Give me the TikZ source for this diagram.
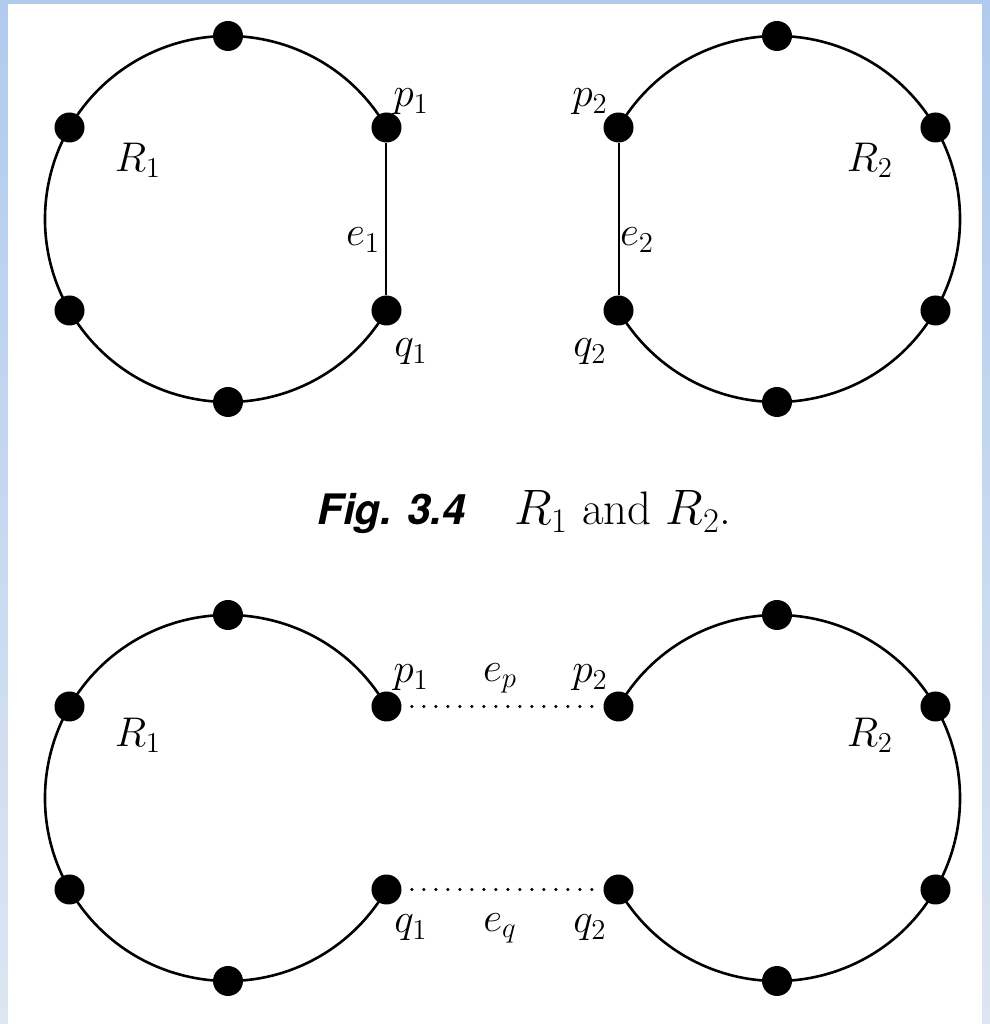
\documentclass[tikz,border=0pt]{standalone}
\usepackage{fontspec}
\newfontfamily\capsans{TeX Gyre Heros}
\definecolor{frTop}{HTML}{B0CBEE}
\definecolor{frBot}{HTML}{DDE5F1}
\usetikzlibrary{backgrounds}

\begin{document}
\begin{tikzpicture}[
  x=0.5pt,y=0.5pt,
  vtx/.style={circle,fill=black,inner sep=0pt,minimum size=15pt},
  lbl/.style={font=\fontsize{20}{24}\selectfont,inner sep=0pt},
  big/.style={font=\fontsize{22}{26}\selectfont,inner sep=0pt},
  rim/.style={line width=1.3pt},
  chord/.style={line width=1pt},
  bridge/.style={line width=1.8pt,dash pattern=on 0pt off 6pt,line cap=round,
                 shorten <=5pt,shorten >=5pt}
]
\useasboundingbox (0,0) rectangle (990,1024);
% ring centres: t = Fig. 3.4, b = merged ring
\coordinate (cLt) at (228,805);
\coordinate (cRt) at (777,805);
\coordinate (cLb) at (228,226);
\coordinate (cRb) at (777,226);
\foreach \f in {t,b}{
  \foreach \ang/\k in {90/1,150/2,210/3,270/4}
    \node[vtx] (L\k\f) at ([shift={(\ang:183)}]cL\f) {};
  \foreach \ang/\k in {90/1,30/2,-30/3,270/4}
    \node[vtx] (R\k\f) at ([shift={(\ang:183)}]cR\f) {};
  \node[vtx] (p1\f) at ([shift={(30:183)}]cL\f) {};
  \node[vtx] (q1\f) at ([shift={(-30:183)}]cL\f) {};
  \node[vtx] (p2\f) at ([shift={(150:183)}]cR\f) {};
  \node[vtx] (q2\f) at ([shift={(210:183)}]cR\f) {};
}
\begin{scope}[on background layer]
\shade[top color=frTop,bottom color=frBot] (0,0) rectangle (990,1024);
\fill[white] (8,0) rectangle (982,1020);
\foreach \f in {t,b}{
  \draw[rim] (p1\f.center) arc[start angle=30,end angle=330,radius=183];
  \draw[rim] (p2\f.center) arc[start angle=150,end angle=-150,radius=183];
}
\end{scope}
\draw[chord] (p1t) -- (q1t);
\draw[chord] (p2t) -- (q2t);
\draw[bridge] (p1b) -- (p2b);
\draw[bridge] (q1b) -- (q2b);
% labels
\node[big] (r1t) at (138,864) {$R_1$};
\node[big] (r2t) at (870,864) {$R_2$};
\node[lbl] (lp1t) at (411,922) {$p_1$};
\node[lbl] (lp2t) at (590,922) {$p_2$};
\node[lbl] (le1) at (363,784) {$e_1$};
\node[lbl] (le2) at (637,784) {$e_2$};
\node[lbl] (lq1t) at (411,672) {$q_1$};
\node[lbl] (lq2t) at (590,672) {$q_2$};
\node[lbl] (cap) [anchor=base west] at (317,499)
  {{\fontsize{21}{25}\selectfont\capsans\bfseries\itshape Fig. 3.4}\hspace{24pt}{\fontsize{23.5}{27}\selectfont$R_1$ and $R_2$.}};
\node[big] (r1b) at (138,289) {$R_1$};
\node[big] (r2b) at (870,289) {$R_2$};
\node[lbl] (lp1b) at (411,346) {$p_1$};
\node[lbl] (lep) at (500,346) {$e_p$};
\node[lbl] (lp2b) at (590,346) {$p_2$};
\node[lbl] (lq1b) at (411,96) {$q_1$};
\node[lbl] (leq) at (500,96) {$e_q$};
\node[lbl] (lq2b) at (590,96) {$q_2$};
\end{tikzpicture}
\end{document}
